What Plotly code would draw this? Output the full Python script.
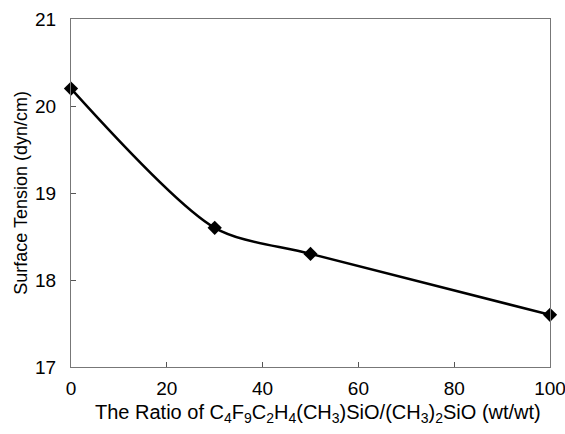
import plotly.graph_objects as go

ratio = [0, 30, 50, 100]
tension = [20.2, 18.6, 18.3, 17.6]
x_ticks = [0, 20, 40, 60, 80, 100]
y_ticks = [17, 18, 19, 20, 21]
x_title = "The Ratio of C<sub>4</sub>F<sub>9</sub>C<sub>2</sub>H<sub>4</sub>(CH<sub>3</sub>)SiO/(CH<sub>3</sub>)<sub>2</sub>SiO (wt/wt)"
y_title = "Surface Tension (dyn/cm)"

FONT = "Liberation Sans, Arial, sans-serif"

fig = go.Figure()
fig.add_trace(go.Scatter(
    x=ratio, y=tension, mode="lines+markers",
    line=dict(color="black", width=2.5, shape="spline", smoothing=0.8),
    marker=dict(symbol="diamond", size=11, color="black"),
    showlegend=False, cliponaxis=False,
))

axis_common = dict(
    showgrid=False, zeroline=False, showline=True, linecolor="#777777",
    linewidth=1, mirror=True, ticks="inside", ticklen=5, tickcolor="#555555",
    automargin=False, ticklabeloverflow="allow",
    tickfont=dict(family=FONT, size=19, color="black"),
)

fig.update_layout(
    width=565, height=434,
    margin=dict(l=71, r=15, t=19, b=67),
    paper_bgcolor="white", plot_bgcolor="white",
    font=dict(family=FONT, color="black"),
    xaxis=dict(range=[0, 100], tickvals=x_ticks, ticklabelstandoff=4, **axis_common),
    yaxis=dict(range=[17, 21], tickvals=y_ticks, ticklabelstandoff=10, **axis_common),
    annotations=[
        dict(text=x_title, xref="paper", yref="paper", x=0.515, y=-0.135,
             xanchor="center", yanchor="middle", showarrow=False,
             font=dict(family=FONT, size=20, color="black")),
        dict(text=y_title, xref="paper", yref="paper", x=-0.105, y=0.5,
             xanchor="center", yanchor="middle", showarrow=False, textangle=-90,
             font=dict(family=FONT, size=18, color="black")),
    ],
)

fig.write_html("out.html", config={"displayModeBar": False},
               post_script="document.body.style.margin='0';")
